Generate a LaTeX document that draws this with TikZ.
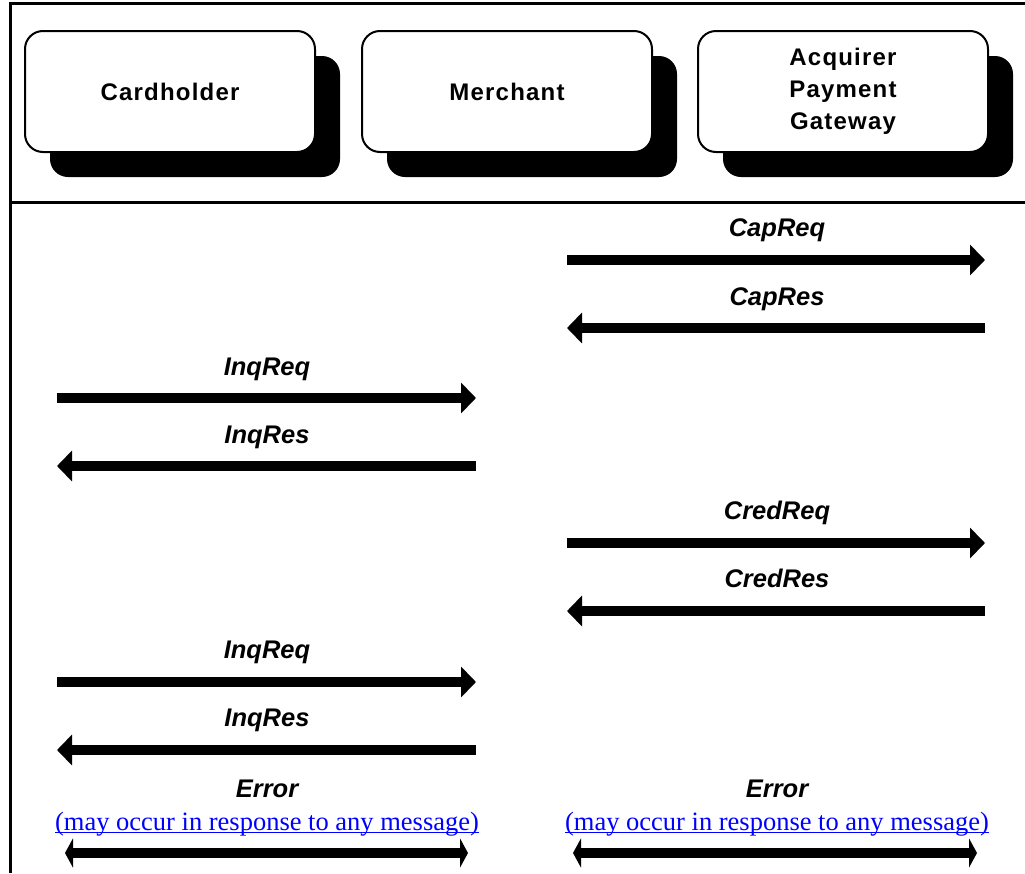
\documentclass[tikz,border=0pt]{standalone}
\usepackage{fontspec}
\setmainfont{Liberation Sans}
\newfontfamily\boxfont[LetterSpace=5]{Liberation Sans}
\newfontfamily\linkfont{Liberation Serif}
\usetikzlibrary{arrows.meta,shadows}
\definecolor{linkblue}{RGB}{0,0,255}
\newcommand{\linkul}[1]{\setbox0\hbox{#1}\rlap{\rule[-3pt]{\wd0}{1.3pt}}\box0}
\begin{document}
\begin{tikzpicture}[x=1pt,y=-1pt,
  party/.style={draw, line width=2pt, fill=white, rounded corners=18pt,
    minimum width=290pt, minimum height=121pt, inner sep=0pt, align=center,
    font=\boxfont\bfseries\fontsize{24}{32}\selectfont,
    drop shadow={shadow xshift=25pt, shadow yshift=-25pt, fill=black, opacity=1}},
  msg/.style={line width=10pt, -{Triangle[length=15pt,width=30pt]}},
  errarrow/.style={line width=10pt, {Triangle[length=8pt,width=29pt]}-{Triangle[length=8pt,width=29pt]}},
  lab/.style={anchor=base, inner sep=0pt, font=\bfseries\itshape\fontsize{25.5}{30}\selectfont},
  linktext/.style={anchor=base, inner sep=0pt, text=linkblue, font=\linkfont\fontsize{26.5}{30}\selectfont},
  frameline/.style={line width=3pt}
]
\useasboundingbox (0,0) rectangle (1025,873);
% frame
\coordinate (tl) at (10.5,3);
\coordinate (tr) at (1025,3);
\coordinate (bl) at (10.5,873);
\coordinate (sl) at (10.5,202);
\coordinate (sr) at (1025,202);
\draw[frameline] (bl) -- (tl) -- (tr);
\draw[frameline] (sl) -- (sr);
% parties
\node[party] (card) at (170,91.5) {Cardholder};
\node[party] (merch) at (507,91.5) {Merchant};
\node[party] (acq) at (843,91.5) {Acquirer\\Payment\\Gateway};
% message end points
\coordinate (capreqA) at (567,260); \coordinate (capreqB) at (985,260);
\coordinate (capresA) at (985,328); \coordinate (capresB) at (567,328);
\coordinate (inqreqA) at (57,398);  \coordinate (inqreqB) at (476,398);
\coordinate (inqresA) at (476,466); \coordinate (inqresB) at (57,466);
\coordinate (credreqA) at (567,543); \coordinate (credreqB) at (985,543);
\coordinate (credresA) at (985,611); \coordinate (credresB) at (567,611);
\coordinate (inqreqtA) at (57,682);  \coordinate (inqreqtB) at (476,682);
\coordinate (inqrestA) at (476,750); \coordinate (inqrestB) at (57,750);
\coordinate (errlA) at (65,853); \coordinate (errlB) at (468,853);
\coordinate (errrA) at (573,853); \coordinate (errrB) at (977,853);
% arrows
\draw[msg] (capreqA) -- (capreqB);
\draw[msg] (capresA) -- (capresB);
\draw[msg] (inqreqA) -- (inqreqB);
\draw[msg] (inqresA) -- (inqresB);
\draw[msg] (credreqA) -- (credreqB);
\draw[msg] (credresA) -- (credresB);
\draw[msg] (inqreqtA) -- (inqreqtB);
\draw[msg] (inqrestA) -- (inqrestB);
\draw[errarrow] (errlA) -- (errlB);
\draw[errarrow] (errrA) -- (errrB);
% labels
\node[lab] (lcapreq) at (777,236) {CapReq};
\node[lab] (lcapres) at (777,305) {CapRes};
\node[lab] (linqreq) at (267,375) {InqReq};
\node[lab] (linqres) at (267,443) {InqRes};
\node[lab] (lcredreq) at (777,519) {CredReq};
\node[lab] (lcredres) at (777,587) {CredRes};
\node[lab] (linqreqt) at (267,658) {InqReq};
\node[lab] (linqrest) at (267,726) {InqRes};
\node[lab] (lerrl) at (267,797) {Error};
\node[lab] (lerrr) at (777,797) {Error};
\node[linktext] (nerrl) at (267,830) {\linkul{(may occur in response to any message)}};
\node[linktext] (nerrr) at (777,830) {\linkul{(may occur in response to any message)}};
\end{tikzpicture}
\end{document}
